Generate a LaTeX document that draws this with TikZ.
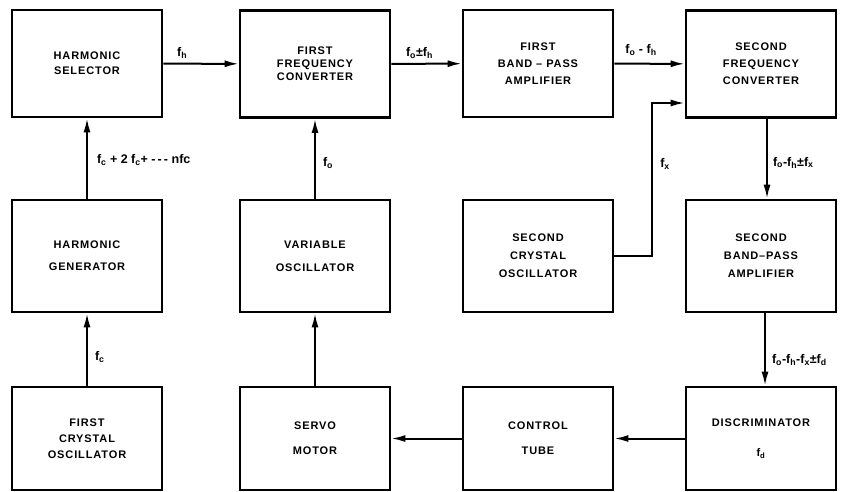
\documentclass[tikz,border=0pt]{standalone}
\usepackage{fontspec}
\setmainfont{Liberation Sans}
\newfontfamily\blockfont{Liberation Sans}[LetterSpace=8]
\usetikzlibrary{arrows.meta,calc}
\newcommand{\fq}[1]{f\textsubscript{#1}}

\tikzset{
  block/.style={draw, line width=2.6pt, minimum width=150pt, minimum height=107pt, align=center,
    font=\blockfont\bfseries\fontsize{11}{15}\selectfont},
  link/.style={line width=2pt, -{Latex[length=14pt,width=7pt]}},
  freq/.style={font=\bfseries\fontsize{12.5}{14}\selectfont, inner sep=1pt}
}

\begin{document}
\begin{tikzpicture}[x=1pt, y=1pt, yscale=-1]
\useasboundingbox (0,0) rectangle (849,492);
\node[block] (hs) at (87,63.5) {HARMONIC\\SELECTOR};
\node[block, font=\blockfont\bfseries\fontsize{11}{13}\selectfont] (ffc) at (315,64) {FIRST\\FREQUENCY\\CONVERTER};
\node[block, font=\blockfont\bfseries\fontsize{11}{17}\selectfont] (fbpa) at (538,63.5) {FIRST\\BAND – PASS\\AMPLIFIER};
\node[block, font=\blockfont\bfseries\fontsize{11}{17}\selectfont] (sfc) at (761,64) {SECOND\\FREQUENCY\\CONVERTER};
\node[block, minimum height=112pt] (hg) at (87,256) {HARMONIC\\[7pt]GENERATOR};
\node[block, minimum height=112pt] (vo) at (315,256) {VARIABLE\\[8pt]OSCILLATOR};
\node[block, minimum height=112pt, font=\blockfont\bfseries\fontsize{11}{18}\selectfont] (sco) at (538,256) {SECOND\\CRYSTAL\\OSCILLATOR};
\node[block, minimum height=112pt, font=\blockfont\bfseries\fontsize{11}{18}\selectfont] (sbpa) at (761,256) {SECOND\\BAND–PASS\\AMPLIFIER};
\node[block, minimum height=103pt, font=\blockfont\bfseries\fontsize{11}{16}\selectfont] (fco) at (87,438.5) {FIRST\\CRYSTAL\\OSCILLATOR};
\node[block, minimum height=103pt] (sm) at (315,438.5) {SERVO\\[10pt]MOTOR};
\node[block, minimum height=103pt] (ct) at (538,438.5) {CONTROL\\[10pt]TUBE};
\node[block, minimum height=103pt] (disc) at (761,438.5) {DISCRIMINATOR\\[15pt]\fq{d}};

\draw[link] (hs) -- node[freq, above=3pt, pos=0.25] {\fq{h}} (ffc);
\draw[link] (ffc) -- node[freq, above=3pt, pos=0.4] {\fq{o}±\fq{h}} (fbpa);
\draw[link] (fbpa) -- node[freq, above=6pt, pos=0.38] {\fq{o} - \fq{h}} (sfc);
\draw[link] (sco.east) -- ++(38,0) |- node[freq, pos=0.3, right=6pt] {\fq{x}} ($(sfc.west)+(0,39)$);
\draw[link] ($(sfc.south)+(6,0)$) -- node[freq, right=4pt, pos=0.55] {\fq{o}-\fq{h}±\fq{x}} ($(sbpa.north)+(6,0)$);
\draw[link] ($(sbpa.south)+(4,0)$) -- node[freq, right=5pt, pos=0.65] {\fq{o}-\fq{h}-\fq{x}±\fq{d}} ($(disc.north)+(4,0)$);
\draw[link] (disc) -- (ct);
\draw[link] (ct) -- (sm);
\draw[link] (sm) -- (vo);
\draw[link] (vo) -- node[freq, right=6pt, pos=0.45] {\fq{o}} (ffc);
\draw[link] (fco) -- node[freq, right=6pt, pos=0.4] {\fq{c}} (hg);
\draw[link] (hg) -- node[freq, right=8pt, pos=0.48] {\fq{c} + 2 \fq{c}+ -\,-\,- nfc} (hs);
\end{tikzpicture}
\end{document}
